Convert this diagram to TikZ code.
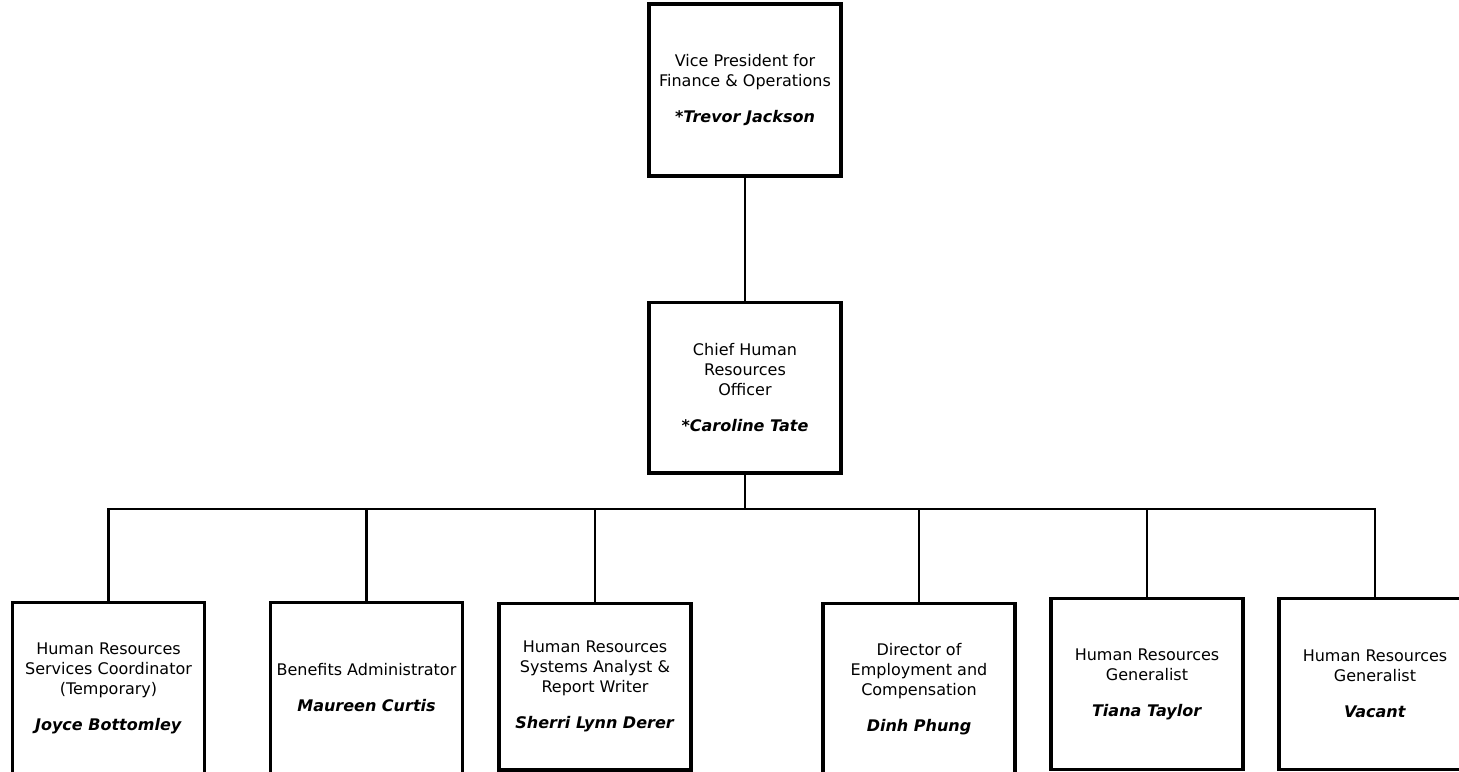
\documentclass[tikz,border=0pt]{standalone}
\usepackage{fontspec}
\setmainfont{DejaVu Sans}
\begin{document}
\begin{tikzpicture}[x=0.75pt,y=-0.75pt,
  orgbox/.style={draw=black,line width=2.5pt,rectangle,align=center,
    minimum width=144pt,minimum height=128pt,inner sep=0pt,
    font=\fontsize{12pt}{15pt}\selectfont},
  link/.style={draw=black,line width=1.9pt}]
\useasboundingbox (0,0) rectangle (1459,771);
\clip (0,0) rectangle (1459,771);
\newcommand{\nm}[1]{\textbf{\textit{#1}}}
\node[orgbox,minimum height=129pt] (vp) at (745,90)
  {Vice President for\\Finance \& Operations\\[12pt]\nm{*Trevor Jackson}};
\node[orgbox] (chro) at (745,387.5)
  {Chief Human\\Resources\\Officer\\[12pt]\nm{*Caroline Tate}};
\node[orgbox] (c1) at (108.5,688)
  {Human Resources\\Services Coordinator\\(Temporary)\\[12pt]\nm{Joyce Bottomley}};
\node[orgbox] (c2) at (366.5,688)
  {Benefits Administrator\\[12pt]\nm{Maureen Curtis}};
\node[orgbox,minimum height=125pt] (c3) at (595,686.5)
  {Human Resources\\Systems Analyst \&\\Report Writer\\[12pt]\nm{Sherri Lynn Derer}};
\node[orgbox] (c4) at (919,689)
  {Director of\\Employment and\\Compensation\\[12pt]\nm{Dinh Phung}};
\node[orgbox] (c5) at (1147,684)
  {Human Resources\\Generalist\\[12pt]\nm{Tiana Taylor}};
\node[orgbox] (c6) at (1375,684)
  {Human Resources\\Generalist\\[12pt]\nm{Vacant}};
\coordinate (bus) at (745,509);
\draw[link] (vp.south) -- (chro.north);
\draw[link] (chro.south) -- (bus);
\foreach \c in {c1,c2,c3,c4,c5,c6}{\draw[link] (bus) -| (\c.north);}
\end{tikzpicture}
\end{document}
